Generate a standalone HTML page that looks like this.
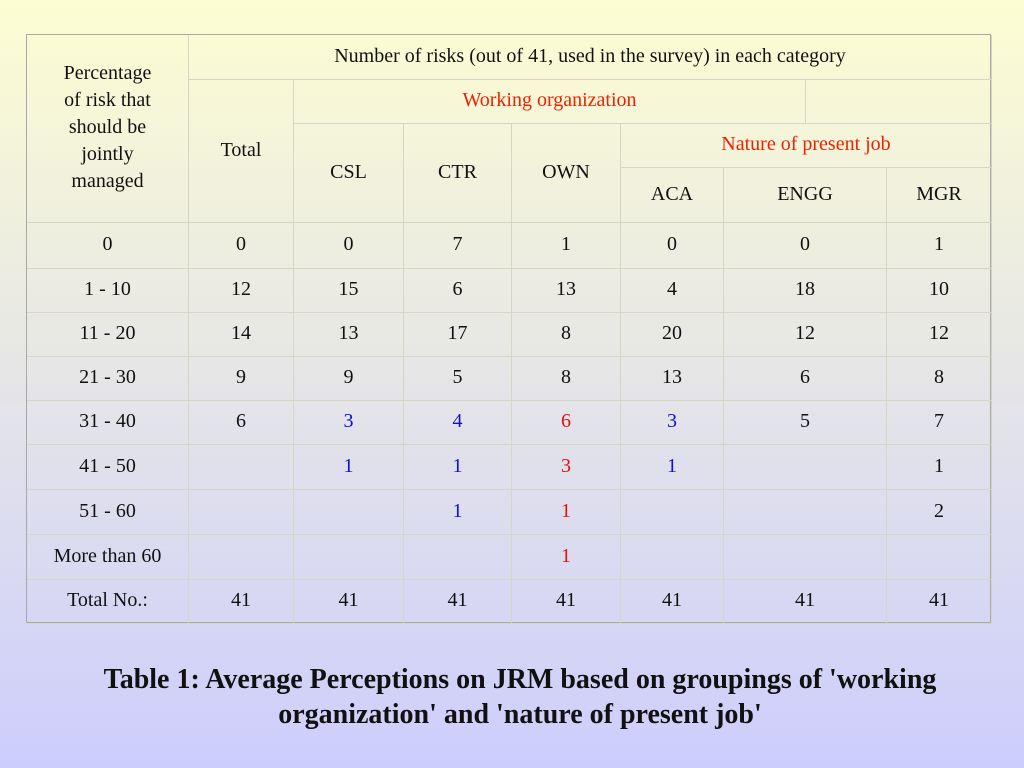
<!DOCTYPE html>
<html><head><meta charset="utf-8"><style>
html,body{margin:0;padding:0}
body{width:1024px;height:768px;position:relative;overflow:hidden;background:linear-gradient(#fdfdd2,#cdcdfd);font-family:"Liberation Serif","Times New Roman",Times,serif;color:#111}
#tbl{position:absolute;left:26px;top:34px;width:965px;height:589px;border:1px solid #a8a8a8;box-sizing:border-box}
.c{position:absolute;display:flex;align-items:center;justify-content:center;text-align:center;font-size:20px;border-right:1px solid #d6d6c4;border-bottom:1px solid #d6d6c4;box-sizing:border-box;line-height:27px;padding-bottom:2px}
.r{color:#ee2200}.b{color:#1111cc}.k{color:#dd1111}
#cap{position:absolute;left:0;width:1040px;top:662px;text-align:center;font-weight:bold;font-size:28px;line-height:35px}
</style></head><body>
<div id="tbl"></div>
<div id="cap">Table 1: Average Perceptions on JRM based on groupings of 'working<br>organization' and 'nature of present job'</div>
<script>
const xs=[26,188,293,403,511,620,723,886,991];
const ys=[34,79,123,167,222,268,312,356,400,444,489,534,579,623];
const rowLabels=["0","1 - 10","11 - 20","21 - 30","31 - 40","41 - 50","51 - 60","More than 60","Total No.:"];
const totalCol=["0","12","14","9","6","","","","41"];
const cslCol=["0","15","13","9","3","1","","","41"];
const ctrCol=["7","6","17","5","4","1","1","","41"];
const ownCol=["1","13","8","8","6","3","1","1","41"];
const acaCol=["0","4","20","13","3","1","","","41"];
const enggCol=["0","18","12","6","5","","","","41"];
const mgrCol=["1","10","12","8","7","1","2","","41"];
const tbl=document.getElementById('tbl');
function cell(x0,y0,x1,y1,html,name,cls){
 const d=document.createElement('div');
 d.className='c'+(cls?' '+cls:'');
 d.style.left=(x0-26)+'px';d.style.top=(y0-34)+'px';
 d.style.width=(x1-x0)+'px';d.style.height=(y1-y0)+'px';
 d.innerHTML=html;
 
 
 tbl.appendChild(d);return d;
}
cell(26,34,188,222,'Percentage<br>of risk that<br>should be<br>jointly<br>managed','header-percentage');
cell(188,34,991,79,'Number of risks (out of 41, used in the survey) in each category','header-number-of-risks');
cell(188,79,293,222,'Total','header-total');
cell(293,79,805,123,'Working organization','header-working-organization','r');
cell(805,79,991,123,'','header-empty');
cell(293,123,403,222,'CSL','header-csl');
cell(403,123,511,222,'CTR','header-ctr');
cell(511,123,620,222,'OWN','header-own');
cell(620,123,991,167,'Nature of present job','header-nature-of-job','r');
cell(620,167,723,222,'ACA','header-aca');
cell(723,167,886,222,'ENGG','header-engg');
cell(886,167,991,222,'MGR','header-mgr');
const cols=[rowLabels,totalCol,cslCol,ctrCol,ownCol,acaCol,enggCol,mgrCol];
const names=['label','total','csl','ctr','own','aca','engg','mgr'];
for(let i=0;i<rowLabels.length;i++){
 for(let j=0;j<cols.length;j++){
  let cls='';
  if(i>=4&&i<=7){
   if(j===2||j===3||j===5)cls='b';
   if(j===4)cls='k';
  }
  cell(xs[j],ys[i+4],xs[j+1],ys[i+5],cols[j][i],'cell-'+names[j]+'-row-'+(i+1),cls);
 }
}
</script>
</body></html>
